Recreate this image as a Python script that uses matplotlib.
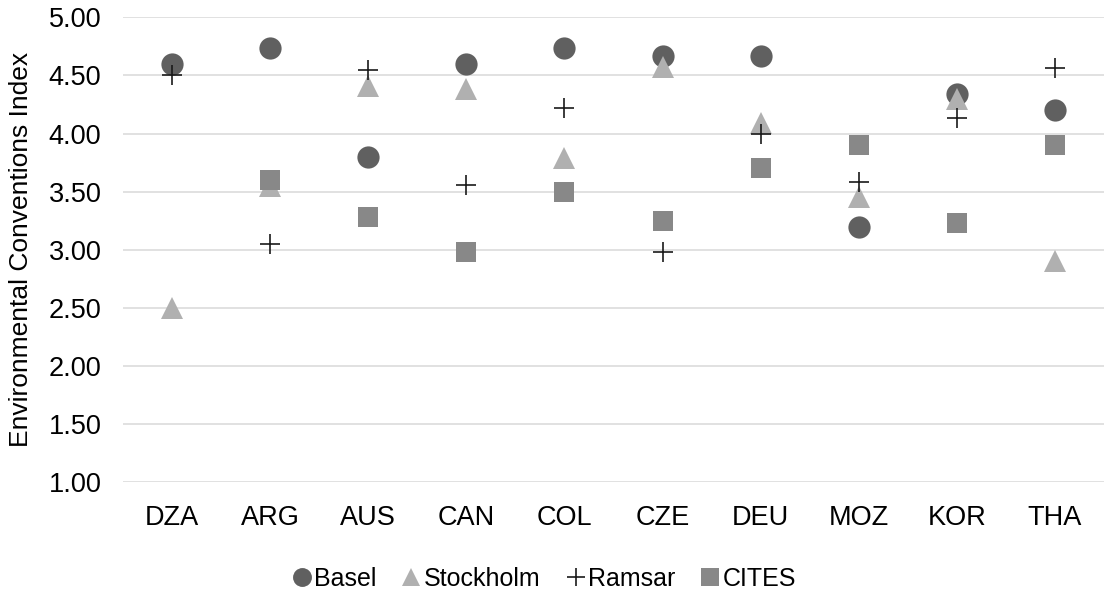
import matplotlib
matplotlib.use("Agg")
import matplotlib.pyplot as plt
import numpy as np

countries = ["DZA", "ARG", "AUS", "CAN", "COL", "CZE", "DEU", "MOZ", "KOR", "THA"]
basel     = [4.60, 4.74, 3.80, 4.60, 4.74, 4.67, 4.67, 3.20, 4.34, 4.20]
stockholm = [2.50, 3.55, 4.41, 4.38, 3.79, 4.57, 4.09, 3.45, 4.30, 2.90]
ramsar    = [4.50, 3.05, 4.55, 3.56, 4.22, 2.98, 4.00, 3.58, 4.13, 4.56]
cites     = [None, 3.60, 3.28, 2.98, 3.50, 3.25, 3.70, 3.90, 3.23, 3.90]
yticks = [1.0, 1.5, 2.0, 2.5, 3.0, 3.5, 4.0, 4.5, 5.0]

plt.rcParams["font.family"] = ["Liberation Sans", "DejaVu Sans"]

W, H = 1107, 594
fig = plt.figure(figsize=(W / 100, H / 100), dpi=100)
ax = fig.add_axes([123 / W, 1 - 482.3 / H, (1104 - 123) / W, (482.3 - 17.3) / H])

x = np.arange(len(countries))

def vals(series):
    return np.array([np.nan if v is None else v for v in series], dtype=float)

ax.plot(x, vals(basel), linestyle="none", marker="o", markersize=16,
        color="#606060", markeredgewidth=0, label="Basel", zorder=3)
ax.plot(x, vals(stockholm), linestyle="none", marker="^", markersize=15.5,
        color="#b0b0b0", markeredgewidth=0, label="Stockholm", zorder=4)
ax.plot(x, vals(ramsar), linestyle="none", marker="+", markersize=15,
        color="#1a1a1a", markeredgewidth=1.2, label="Ramsar", zorder=6)
ax.plot(x, vals(cites), linestyle="none", marker="s", markersize=15,
        color="#888888", markeredgewidth=0, label="CITES", zorder=5)

ax.set_xlim(-0.5, len(countries) - 0.5)
ax.set_ylim(1.0, 5.0)
ax.set_yticks(yticks)
ax.set_yticklabels([f"{v:.2f}" for v in yticks])
ax.set_xticks(x)
ax.set_xticklabels(countries)
ax.tick_params(axis="both", length=0, labelsize=19.5, colors="#000000")
ax.tick_params(axis="y", pad=15.5)
ax.tick_params(axis="x", pad=16)

ax.yaxis.grid(True, color="#d9d9d9", linewidth=1.1)
ax.set_axisbelow(True)
for s in ax.spines.values():
    s.set_visible(False)

ax.set_ylabel("Environmental Conventions Index", fontsize=19)
ax.yaxis.set_label_coords(-0.092, 0.5)

fig.legend(loc="center", bbox_to_anchor=(544 / W, 1 - 579 / H), ncol=4,
           frameon=False, fontsize=18, markerscale=0.85,
           handlelength=0.8, handletextpad=0.1, columnspacing=1.0)

fig.savefig("out.png", dpi=100)
